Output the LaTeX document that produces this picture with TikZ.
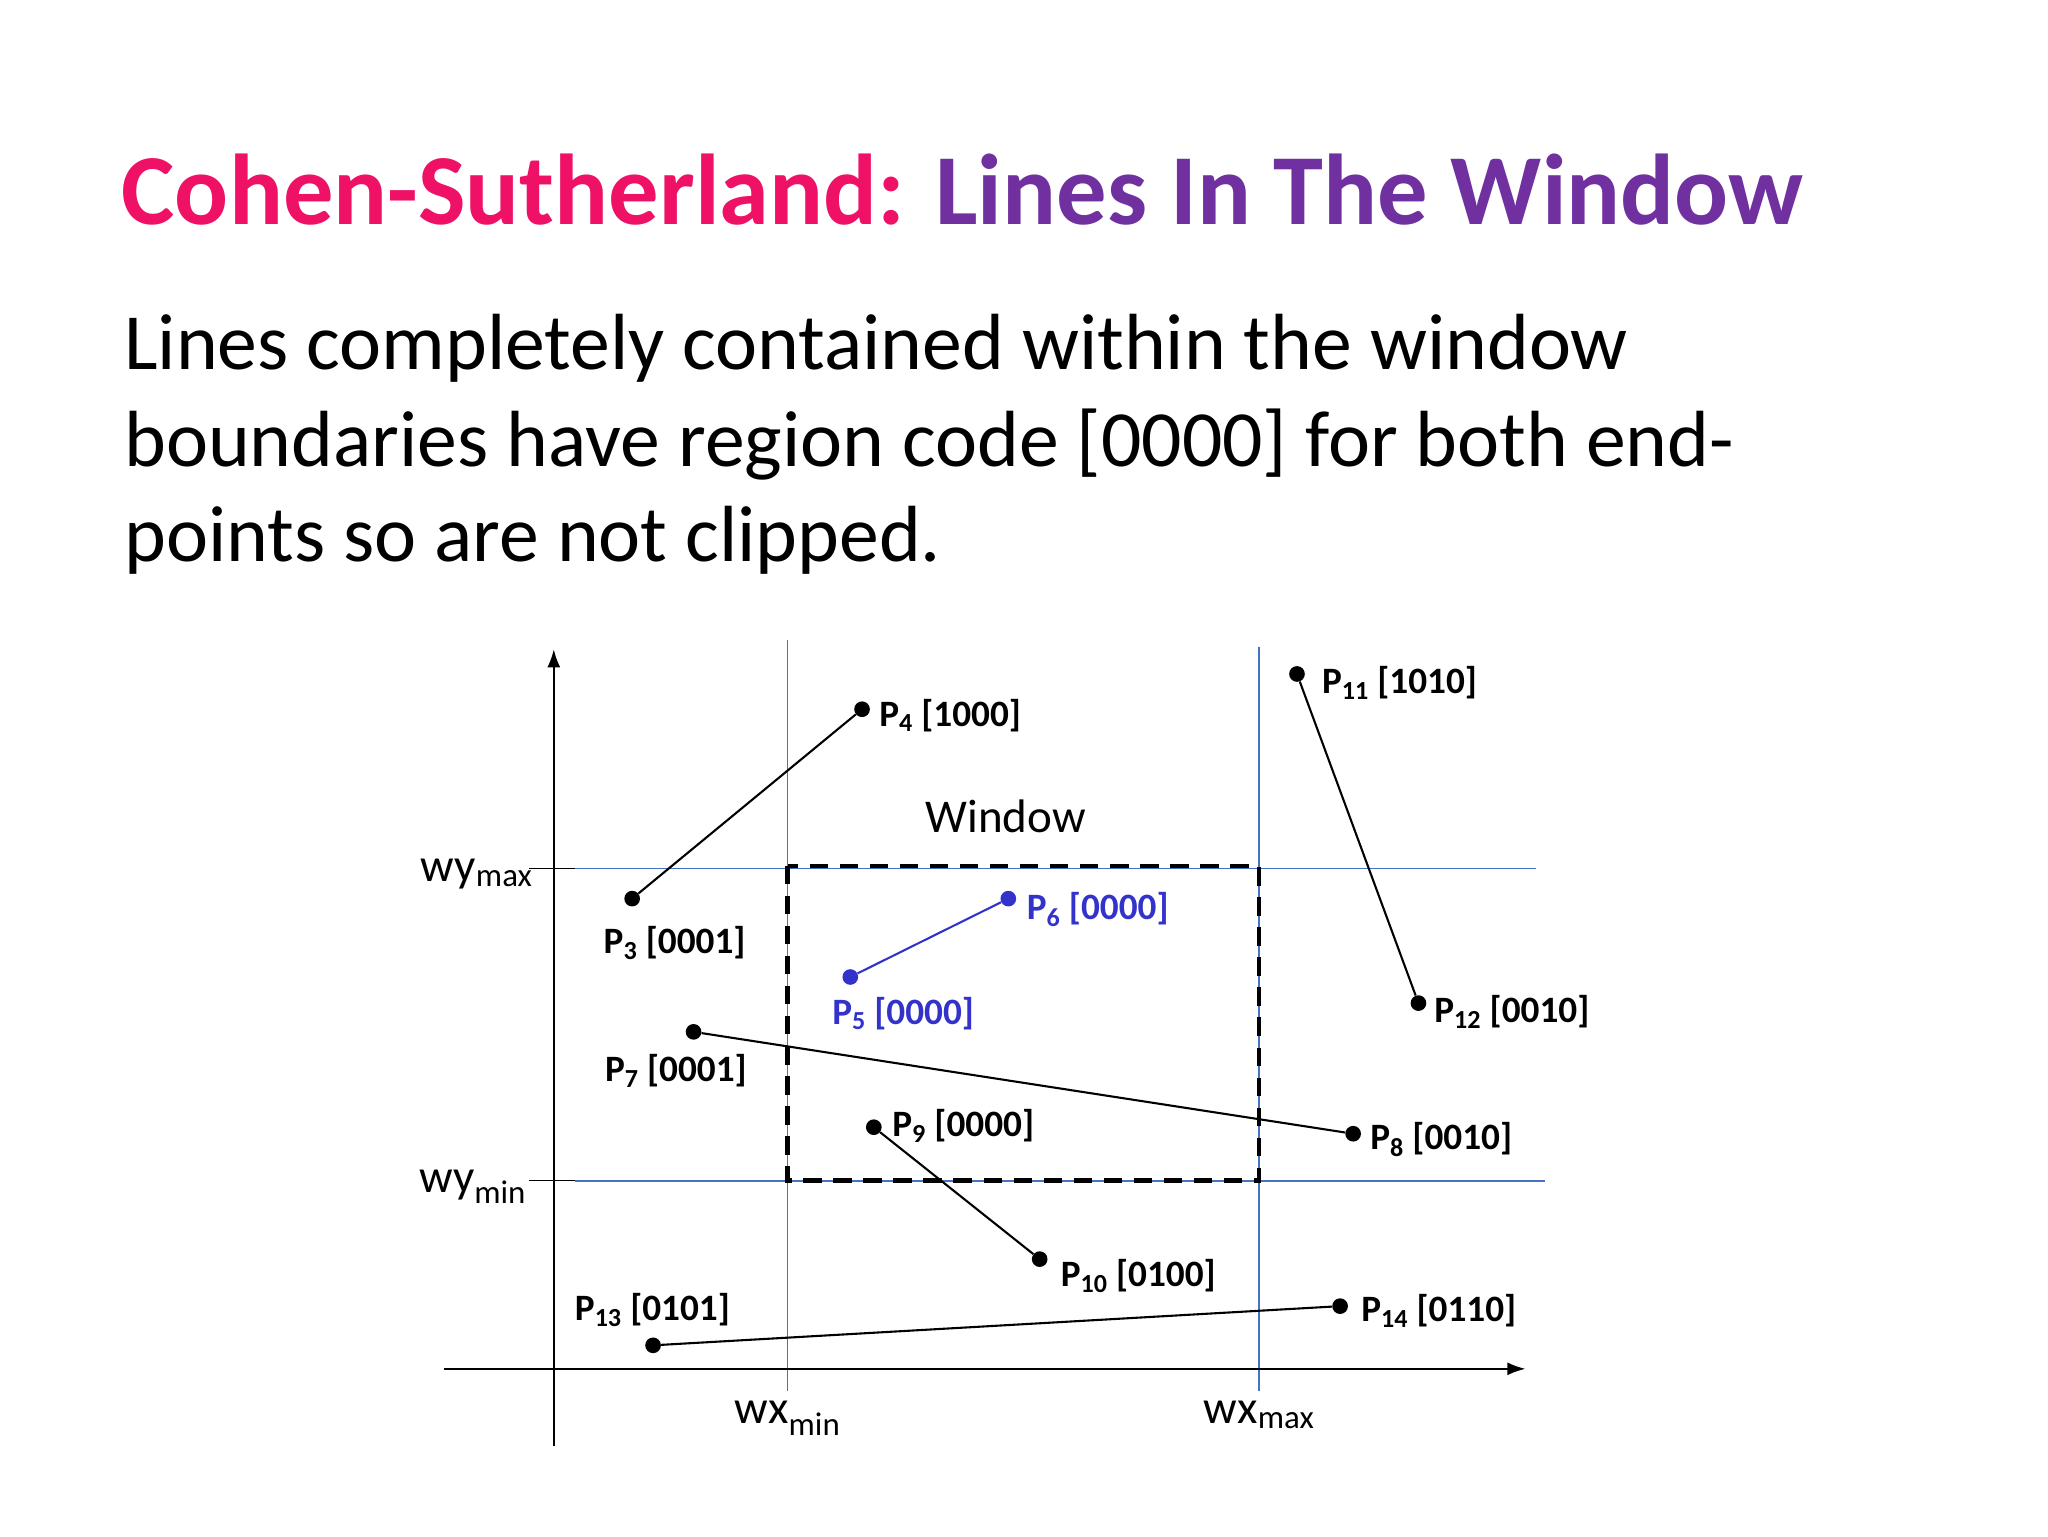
\documentclass[tikz,border=0pt]{standalone}
\usepackage{fontspec}
\setmainfont{Carlito}
\usetikzlibrary{arrows.meta}
\definecolor{tpink}{HTML}{EE1166}
\definecolor{tpurple}{HTML}{7030A0}
\definecolor{gblue}{HTML}{4472C4}
\definecolor{pblue}{HTML}{3333CC}
\begin{document}
\begin{tikzpicture}[x=1pt,y=-1pt,
  grid/.style={gblue,line width=1.2pt},
  seg/.style={black,line width=1.6pt},
  dot/.style={circle,fill=black,inner sep=0pt,minimum size=12pt},
  bdot/.style={circle,fill=pblue,inner sep=0pt,minimum size=12pt},
  lab/.style={anchor=base west,font=\fontsize{28.5}{30}\selectfont\bfseries,inner sep=0pt},
  body/.style={anchor=base west,inner sep=0pt,font=\fontsize{61}{74}\selectfont},
  ax/.style={font=\fontsize{36}{40}\selectfont,inner sep=0pt}]
\useasboundingbox[fill=white] (0,0) rectangle (1568,1176);
\node[anchor=base west,inner sep=0pt,font=\fontsize{77}{90}\selectfont\bfseries] (title) at (93,172)
  {\textcolor{tpink}{Cohen-Sutherland:} \textcolor{tpurple}{Lines In The Window}};
\node[body] (b1) at (95,283) {Lines completely contained within the window};
\node[body] (b2) at (95,357) {boundaries have region code [0000] for both end-};
\node[body] (b3) at (95,430) {points so are not clipped.};
% grid lines
\draw[grid] (603,490) -- (603,1065);
\draw[grid] (964,495) -- (964,1065);
\draw[grid] (440,665) -- (1176,665);
\draw[grid] (440,904) -- (1183,904);
\draw[black,line width=1pt] (405,665) -- (440,665);
\draw[black,line width=1pt] (405,904) -- (440,904);
% axes
\draw[line width=1.6pt,-{Latex[length=14pt,width=10pt]}] (424,1107) -- (424,497);
\draw[line width=1.6pt,-{Latex[length=14pt,width=10pt]}] (340,1048) -- (1168,1048);
% window
\draw[line width=3.5pt,dash pattern=on 14pt off 9pt] (603,663) rectangle (964,904);
\node[font=\fontsize{36}{40}\selectfont] (win) at (770,625) {Window};
\node[ax,anchor=base east] (wymax) at (408,675) {wy\textsubscript{max}};
\node[ax,anchor=base east] (wymin) at (403,913) {wy\textsubscript{min}};
\node[ax,anchor=base] (wxmin) at (603,1090) {wx\textsubscript{min}};
\node[ax,anchor=base] (wxmax) at (964,1090) {wx\textsubscript{max}};
% points
\node[dot] (p3) at (484,688) {};
\node[dot] (p4) at (660,543) {};
\node[bdot] (p5) at (651,748) {};
\node[bdot] (p6) at (772,688) {};
\node[dot] (p7) at (531,790) {};
\node[dot] (p8) at (1036,868) {};
\node[dot] (p9) at (669,863) {};
\node[dot] (p10) at (796,964) {};
\node[dot] (p11) at (993,516) {};
\node[dot] (p12) at (1086,768) {};
\node[dot] (p13) at (500,1030) {};
\node[dot] (p14) at (1026,1000) {};
\draw[seg] (p3) -- (p4);
\draw[pblue,line width=1.6pt] (p5) -- (p6);
\draw[seg] (p7) -- (p8);
\draw[seg] (p9) -- (p10);
\draw[seg] (p11) -- (p12);
\draw[seg] (p13) -- (p14);
% labels
\node[lab] (l4) at (673,556) {P\textsubscript{4} [1000]};
\node[lab] (l3) at (462,730) {P\textsubscript{3} [0001]};
\node[lab,text=pblue] (l6) at (786,704) {P\textsubscript{6} [0000]};
\node[lab,text=pblue] (l5) at (637,784) {P\textsubscript{5} [0000]};
\node[lab] (l7) at (463,828) {P\textsubscript{7} [0001]};
\node[lab] (l8) at (1049,880) {P\textsubscript{8} [0010]};
\node[lab] (l9) at (683,870) {P\textsubscript{9} [0000]};
\node[lab] (l10) at (812,985) {P\textsubscript{10} [0100]};
\node[lab] (l11) at (1012,531) {P\textsubscript{11} [1010]};
\node[lab] (l12) at (1098,783) {P\textsubscript{12} [0010]};
\node[lab] (l13) at (440,1011) {P\textsubscript{13} [0101]};
\node[lab] (l14) at (1042,1012) {P\textsubscript{14} [0110]};
\end{tikzpicture}
\end{document}
